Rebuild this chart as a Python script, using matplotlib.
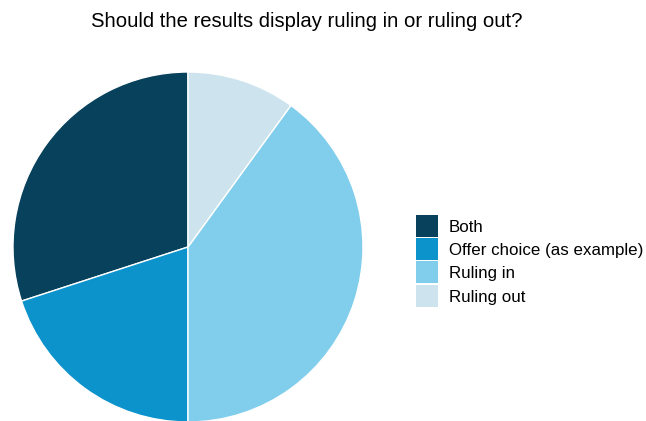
import matplotlib
matplotlib.use("Agg")
import matplotlib.pyplot as plt
from matplotlib.patches import Rectangle

plt.rcParams['font.family'] = ['Liberation Sans', 'DejaVu Sans']

categories = ["Both", "Offer choice (as example)", "Ruling in", "Ruling out"]
values = [30, 20, 40, 10]
colors = ["#08415C", "#0C93CC", "#81CEEC", "#CDE4EE"]

W, H = 646, 421
fig = plt.figure(figsize=(W / 100, H / 100), dpi=100)
ax = fig.add_axes([0.0201, -0.0024, 0.5418, 0.8314])
ax.pie(values, colors=colors, startangle=90, counterclock=True,
       wedgeprops=dict(edgecolor="white", linewidth=1.0))
ax.set_xlim(-1, 1)
ax.set_ylim(-1, 1)
ax.set_aspect("equal")

fig.text(0.475, 0.950, "Should the results display ruling in or ruling out?",
         ha="center", va="center", fontsize=14.6)

# Legend: square keys stacked with a thin gap, labels to the right (pixel layout)
key_left, key_top, key_size, row_step, text_left = 416, 214.5, 22, 23.35, 449
for i, (label, color) in enumerate(zip(categories, colors)):
    top = key_top + i * row_step
    fig.add_artist(Rectangle((key_left / W, 1 - (top + key_size) / H),
                             key_size / W, key_size / H,
                             transform=fig.transFigure, facecolor=color,
                             edgecolor="none"))
    fig.text(text_left / W, 1 - (top + key_size / 2 + 1.5) / H, label,
             ha="left", va="center", fontsize=12.2)

fig.savefig("out.png", dpi=100)
